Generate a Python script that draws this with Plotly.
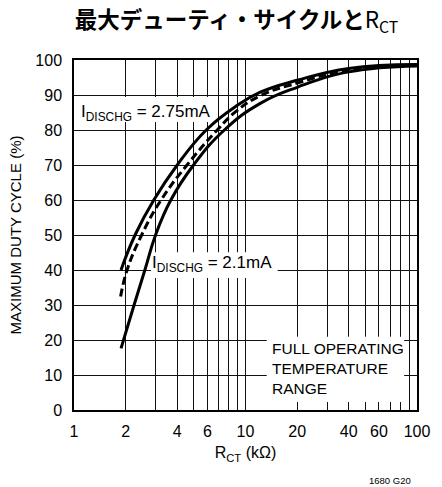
import plotly.graph_objects as go

# data
rct_upper = [1.88, 2.27, 2.92, 4.0, 5.9, 8.8, 12.2, 20, 40, 100]
duty_upper = [40, 50, 60, 70, 80, 86.8, 90.8, 94.2, 97.6, 98.7]   # IDISCHG = 2.75mA

rct_mid = [1.87, 2.04, 2.48, 3.22, 4.56, 6.84, 8.8, 12.2, 20, 40, 100]
duty_mid = [32.4, 40, 50, 60, 70, 80, 85.3, 89.8, 93.4, 97.1, 98.5]   # typical (dashed)

rct_lower = [1.88, 2.24, 2.59, 2.99, 3.67, 4.98, 7.53, 12.2, 20, 40, 100]
duty_lower = [17.6, 30, 40, 50, 60, 70, 80, 87.6, 92.2, 96.6, 98.3]  # IDISCHG = 2.1mA

x_ticks = [1, 2, 4, 6, 10, 20, 40, 60, 100]
x_minor = [2, 3, 4, 5, 6, 7, 8, 9, 20, 30, 40, 50, 60, 70, 80, 90]
y_ticks = list(range(0, 101, 10))

# white backing areas behind the in-plot labels (x0, x1 in kΩ, y0, y1 in %)
label_boxes = [(1.054, 6.49, 82.3, 89.4),
               (2.81, 15.4, 37.7, 45.1),
               (13.3, 84.2, 2.3, 20.9)]

FONT = "Liberation Sans, Arial, sans-serif"

fig = go.Figure()
for x0, x1, y0, y1 in label_boxes:
    fig.add_trace(go.Scatter(x=[x0, x1, x1, x0, x0], y=[y0, y0, y1, y1, y0],
                             mode="lines", fill="toself", fillcolor="white",
                             line=dict(width=0, color="white"),
                             showlegend=False, hoverinfo="skip"))

for xs, ys, dash in [(rct_upper, duty_upper, "solid"),
                     (rct_mid, duty_mid, "8px,4px"),
                     (rct_lower, duty_lower, "solid")]:
    fig.add_trace(go.Scatter(x=xs, y=ys, mode="lines",
                             line=dict(color="black", width=3, dash=dash, shape="spline", smoothing=1.3),
                             showlegend=False, hoverinfo="skip"))

fig.update_layout(
    width=442, height=487,
    margin=dict(l=74, r=16, t=60, b=77),
    paper_bgcolor="white", plot_bgcolor="white",
    font=dict(family=FONT, size=16, color="black"),
    title=dict(
        text="<b>最大デューティ・サイクルと</b>R<sub>CT</sub>",
        font=dict(family="Noto Sans CJK JP, Liberation Sans, sans-serif", size=22.5, color="black"),
        x=0.535, xanchor="center", y=0.958, yanchor="middle"),
)

fig.update_xaxes(
    type="log", range=[0, 2],
    tickmode="array", tickvals=x_ticks, ticktext=[str(v) for v in x_ticks],
    showgrid=True, gridcolor="#111", gridwidth=1,
    minor=dict(tickmode="array", tickvals=x_minor, showgrid=True, gridcolor="#111", gridwidth=1, ticks=""),
    showline=True, linecolor="black", linewidth=1.5, mirror=True,
    ticks="", ticklabelstandoff=6,
    tickfont=dict(size=16),
    title=dict(text="R<sub>CT</sub> (kΩ)", font=dict(size=16), standoff=8),
    zeroline=False,
)
fig.update_yaxes(
    range=[0, 100],
    tickmode="array", tickvals=y_ticks,
    showgrid=True, gridcolor="#111", gridwidth=1,
    showline=True, linecolor="black", linewidth=1.5, mirror=True,
    ticks="", ticklabelstandoff=7,
    tickfont=dict(size=16),
    title=dict(text="MAXIMUM DUTY CYCLE (%)", font=dict(size=15), standoff=10),
    zeroline=False,
)

fig.add_annotation(x=0.015, y=0.85, xref="x domain", yref="y domain",
                   text="I<sub>DISCHG</sub> = 2.75mA", showarrow=False,
                   xanchor="left", yanchor="middle",
                   font=dict(size=17))
fig.add_annotation(x=0.222, y=0.418, xref="x domain", yref="y domain",
                   text="I<sub>DISCHG</sub> = 2.1mA", showarrow=False,
                   xanchor="left", yanchor="middle",
                   font=dict(size=17))
fig.add_annotation(x=0.5625, y=0.12, xref="x domain", yref="y domain",
                   text="FULL OPERATING<br>TEMPERATURE<br>RANGE", showarrow=False,
                   xanchor="left", yanchor="middle", align="left",
                   font=dict(size=15.5), borderpad=4)
fig.add_annotation(x=0.989, y=-0.2, xref="x domain", yref="y domain",
                   text="1680 G20", showarrow=False,
                   xanchor="right", yanchor="middle",
                   font=dict(size=9.5))

fig.write_html("out.html")
